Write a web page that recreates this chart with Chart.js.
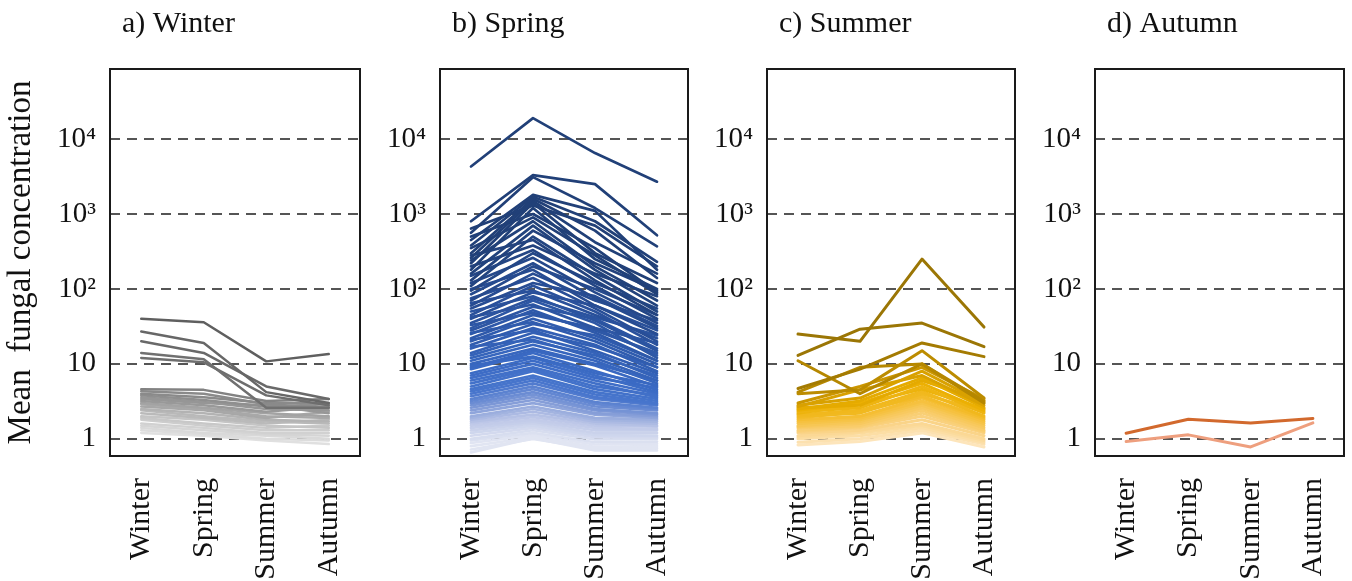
<!DOCTYPE html>
<html>
<head>
<meta charset="utf-8">
<script src="https://cdn.jsdelivr.net/npm/chart.js@4.4.0/dist/chart.umd.min.js"></script>
<style>
  html, body { margin: 0; padding: 0; background: #fff; }
  body { width: 1352px; height: 581px; position: relative; overflow: hidden; }
  canvas { position: absolute; top: 0; }
</style>
</head>
<body>
<canvas id="pA" width="362" height="581"></canvas>
<canvas id="pB" width="326" height="581"></canvas>
<canvas id="pC" width="325" height="581"></canvas>
<canvas id="pD" width="326" height="581"></canvas>
<script>
const seasons = ['Winter', 'Spring', 'Summer', 'Autumn'];
const tickValues = [1, 10, 100, 1000, 10000];
const tickLabels = ['1', '10', '10²', '10³', '10⁴'];
const panelTitles = ['a) Winter', 'b) Spring', 'c) Summer', 'd) Autumn'];
const yTitle = 'Mean  fungal concentration';

// each row: values at Winter, Spring, Summer, Autumn
const winterLines = [
  [40, 36, 10.8, 13.5],
  [27, 19, 4.2, 3.0],
  [20, 14, 5.0, 3.4],
  [14, 11.5, 2.6, 2.6],
  [12, 10.5, 3.8, 2.8],
  [4.6, 4.5, 3.2, 3.4],
  [4.3, 4.0, 2.9, 2.6],
  [4.0, 3.6, 3.0, 3.0],
  [3.8, 3.3, 2.7, 2.9],
  [3.6, 3.1, 2.5, 2.4],
  [3.4, 3.0, 2.8, 2.2],
  [3.2, 2.8, 2.3, 2.7],
  [3.0, 2.6, 2.2, 2.0],
  [2.9, 2.5, 2.0, 1.9],
  [2.7, 2.4, 1.9, 2.3],
  [2.5, 2.2, 1.8, 1.7],
  [2.4, 2.0, 1.7, 1.6],
  [2.2, 1.9, 1.6, 1.8],
  [2.0, 1.8, 1.5, 1.4],
  [1.9, 1.6, 1.4, 1.5],
  [1.8, 1.5, 1.3, 1.3],
  [1.6, 1.4, 1.2, 1.2],
  [1.5, 1.3, 1.15, 1.1],
  [1.4, 1.2, 1.1, 1.0],
  [1.3, 1.15, 1.0, 0.95],
  [1.2, 1.1, 0.95, 0.85]
];

const springLines = [
  [4300, 19000, 6500, 2700],
  [800, 3300, 2500, 520],
  [560, 3100, 1200, 370],
  [450, 1800, 1100, 180],
  [380, 1700, 800, 230],
  [300, 1600, 600, 140],
  [260, 1500, 420, 160],
  [220, 1400, 300, 120],
  [180, 1200, 250, 100],
  [640, 1300, 700, 200],
  [500, 1000, 350, 90],
  [350, 900, 280, 85],
  [240, 800, 200, 70],
  [160, 700, 180, 60],
  [130, 600, 220, 95],
  [110, 500, 150, 50],
  [280, 450, 130, 45],
  [200, 380, 160, 80],
  [150, 330, 110, 40],
  [95, 300, 120, 55],
  [120, 260, 90, 35],
  [85, 220, 75, 30],
  [70, 200, 100, 45],
  [100, 180, 60, 25],
  [60, 160, 70, 38],
  [75, 140, 55, 20],
  [55, 120, 80, 32],
  [45, 110, 50, 18],
  [65, 95, 45, 22],
  [40, 90, 60, 28],
  [50, 80, 38, 15],
  [35, 75, 42, 24],
  [30, 70, 35, 12],
  [42, 62, 30, 19],
  [28, 58, 40, 16],
  [25, 52, 26, 11],
  [33, 48, 28, 14],
  [22, 45, 30, 13],
  [20, 40, 22, 10],
  [26, 36, 20, 9],
  [18, 34, 24, 11],
  [16, 30, 18, 8],
  [21, 28, 15, 7.5],
  [14, 26, 17, 9],
  [13, 23, 14, 6.5],
  [17, 21, 12, 6],
  [12, 20, 13, 7],
  [11, 18, 11, 5.5],
  [10, 16, 10, 6],
  [9, 15, 9.5, 5],
  [8.5, 14, 8, 4.5],
  [9.5, 12.5, 7.5, 5.2],
  [7.5, 12, 7, 4.2],
  [7, 11, 6.5, 4.8],
  [6.5, 10, 6, 4],
  [6, 9, 5.5, 3.6],
  [5.5, 8.5, 5, 3.8],
  [5, 8, 4.6, 3.4],
  [4.6, 7, 4.2, 3.2],
  [4.3, 6.5, 3.9, 3],
  [4, 6, 3.6, 2.9],
  [3.7, 5.5, 3.4, 2.8],
  [3.4, 5, 3.1, 2.6],
  [3.2, 4.6, 2.9, 2.5],
  [3, 4.2, 2.7, 2.4],
  [2.8, 3.9, 2.5, 2.2],
  [2.6, 3.6, 2.4, 2.1],
  [2.4, 3.3, 2.2, 2.0],
  [2.2, 3.0, 2.1, 1.9],
  [2.0, 2.7, 1.9, 1.8],
  [1.9, 2.5, 1.8, 1.7],
  [1.8, 2.3, 1.7, 1.6],
  [1.7, 2.1, 1.6, 1.5],
  [1.6, 1.95, 1.5, 1.45],
  [1.5, 1.8, 1.4, 1.35],
  [1.4, 1.7, 1.3, 1.3],
  [1.3, 1.6, 1.2, 1.2],
  [1.2, 1.5, 1.12, 1.1],
  [1.1, 1.4, 1.05, 1.05],
  [1.0, 1.3, 0.98, 1.0],
  [0.95, 1.2, 0.9, 0.92],
  [0.88, 1.12, 0.84, 0.86],
  [0.8, 1.05, 0.78, 0.8],
  [0.72, 1.0, 0.74, 0.75],
  [0.66, 1.02, 0.7, 0.7]
];

const summerLines = [
  [25, 20, 250, 31],
  [13, 29, 35, 17],
  [4.7, 8.5, 19, 12.5],
  [11, 4, 10, 3],
  [4, 4.5, 15, 3.5],
  [4.2, 9, 10, 3.2],
  [3.0, 5.0, 9, 3.4],
  [2.8, 3.5, 8, 3.0],
  [2.7, 4.5, 7, 2.8],
  [2.5, 3.2, 6.5, 2.6],
  [2.6, 2.8, 6, 3.2],
  [2.4, 3.0, 5.5, 2.4],
  [2.3, 2.6, 5, 2.2],
  [2.2, 2.9, 4.6, 2.5],
  [2.1, 2.4, 4.3, 2.0],
  [2.0, 2.2, 4.0, 2.3],
  [1.9, 2.3, 3.7, 1.9],
  [1.8, 2.0, 3.5, 1.8],
  [1.7, 1.9, 3.2, 1.7],
  [1.6, 1.8, 3.0, 1.6],
  [1.5, 1.7, 2.8, 1.5],
  [1.45, 1.6, 2.6, 1.4],
  [1.4, 1.5, 2.4, 1.3],
  [1.3, 1.45, 2.2, 1.25],
  [1.25, 1.4, 2.0, 1.2],
  [1.2, 1.3, 1.8, 1.1],
  [1.1, 1.25, 1.6, 1.0],
  [1.05, 1.2, 1.5, 0.95],
  [1.0, 1.1, 1.4, 0.9],
  [0.9, 1.0, 1.3, 0.85],
  [0.83, 0.92, 1.2, 0.78]
];

const autumnLines = [
  [1.19, 1.82, 1.63, 1.87],
  [0.92, 1.13, 0.78, 1.63]
];

// colour ramps: [value, [r, g, b]], picked by the line's geometric mean
const greyRamp = [[1, [225, 225, 225]], [1.6, [200, 200, 200]], [2.5, [160, 160, 160]], [3.5, [135, 135, 135]], [6, [110, 110, 110]], [15, [95, 95, 95]]];
const blueRamp = [[0.9, [225, 229, 242]], [1.6, [190, 200, 232]], [2.5, [130, 155, 215]], [4, [72, 118, 205]], [8, [58, 106, 196]], [20, [48, 92, 175]], [60, [40, 78, 150]], [150, [35, 68, 128]], [300, [33, 64, 120]]];
const goldRamp = [[0.9, [253, 230, 190]], [1.4, [250, 210, 130]], [2.2, [245, 190, 50]], [3.2, [235, 175, 0]], [4.5, [205, 152, 0]], [7, [168, 126, 0]], [20, [155, 118, 5]]];
const orangeRamp = [[1, [243, 168, 140]], [1.6, [210, 105, 45]]];

function rampColour(ramp, row) {
  const lv = row.reduce((s, v) => s + Math.log10(v), 0) / row.length;
  if (lv <= Math.log10(ramp[0][0])) return 'rgb(' + ramp[0][1].join(',') + ')';
  for (let i = 1; i < ramp.length; i++) {
    const a = Math.log10(ramp[i - 1][0]), b = Math.log10(ramp[i][0]);
    if (lv <= b) {
      const t = (lv - a) / (b - a);
      const c = ramp[i - 1][1].map((x, k) => Math.round(x + (ramp[i][1][k] - x) * t));
      return 'rgb(' + c.join(',') + ')';
    }
  }
  return 'rgb(' + ramp[ramp.length - 1][1].join(',') + ')';
}

const boxPlugin = {
  id: 'box',
  afterLayout(chart) {
    // the panel titles sit a little right of the frame's left edge
    if (chart.titleBlock) chart.titleBlock.left += 12;
  },
  afterDraw(chart) {
    const { ctx, chartArea: a } = chart;
    ctx.save();
    ctx.strokeStyle = '#1a1a1a';
    ctx.lineWidth = 2;
    ctx.strokeRect(a.left, a.top, a.right - a.left, a.bottom - a.top);
    ctx.restore();
  }
};

const serif = 'Liberation Serif';

const panels = [
  { id: 'pA', left: 0, axisWidth: 110, lines: winterLines, ramp: greyRamp, lw: 2.5, yTitle: true },
  { id: 'pB', left: 364, axisWidth: 76, lines: springLines, ramp: blueRamp, lw: 2.7 },
  { id: 'pC', left: 692, axisWidth: 75, lines: summerLines, ramp: goldRamp, lw: 3 },
  { id: 'pD', left: 1020, axisWidth: 75, lines: autumnLines, ramp: orangeRamp, lw: 3 }
];

panels.forEach((p, i) => {
  const el = document.getElementById(p.id);
  el.style.left = p.left + 'px';
  new Chart(el, {
    type: 'line',
    data: {
      labels: seasons,
      datasets: p.lines.map(row => ({
        data: row,
        borderColor: rampColour(p.ramp, row),
        borderWidth: p.lw,
        pointRadius: 0,
        tension: 0,
        borderJoinStyle: 'round',
        borderCapStyle: 'round'
      }))
    },
    options: {
      responsive: false,
      animation: false,
      layout: { padding: { left: 0, right: 2, top: 0, bottom: 0 } },
      plugins: {
        legend: { display: false },
        tooltip: { enabled: false },
        title: {
          display: true,
          text: panelTitles[i],
          align: 'start',
          fullSize: false,
          color: '#111',
          font: { family: serif, size: 30, weight: 'normal' },
          padding: { top: 6, bottom: 27 }
        }
      },
      scales: {
        x: {
          offset: true,
          grid: { display: false },
          border: { display: false },
          ticks: {
            minRotation: 90,
            maxRotation: 90,
            autoSkip: false,
            padding: 14,
            color: '#111',
            font: { family: serif, size: 30 }
          },
          afterFit: s => { s.height = 125; s.paddingLeft = 0; s.paddingRight = 0; }
        },
        y: {
          type: 'logarithmic',
          min: 0.59,
          max: 86000,
          z: 1,
          grid: { color: '#555', lineWidth: 2, drawTicks: false },
          border: { display: false, dash: [10, 7] },
          afterBuildTicks: s => { s.ticks = tickValues.map(v => ({ value: v })); },
          ticks: {
            padding: 14,
            color: '#111',
            font: { family: serif, size: 29 },
            callback: v => tickLabels[tickValues.indexOf(v)]
          },
          title: {
            display: !!p.yTitle,
            text: yTitle,
            color: '#111',
            font: { family: serif, size: 33 },
            padding: { top: 2, bottom: 0 }
          },
          afterFit: s => { s.width = p.axisWidth; }
        }
      }
    },
    plugins: [boxPlugin]
  });
});
</script>
</body>
</html>
